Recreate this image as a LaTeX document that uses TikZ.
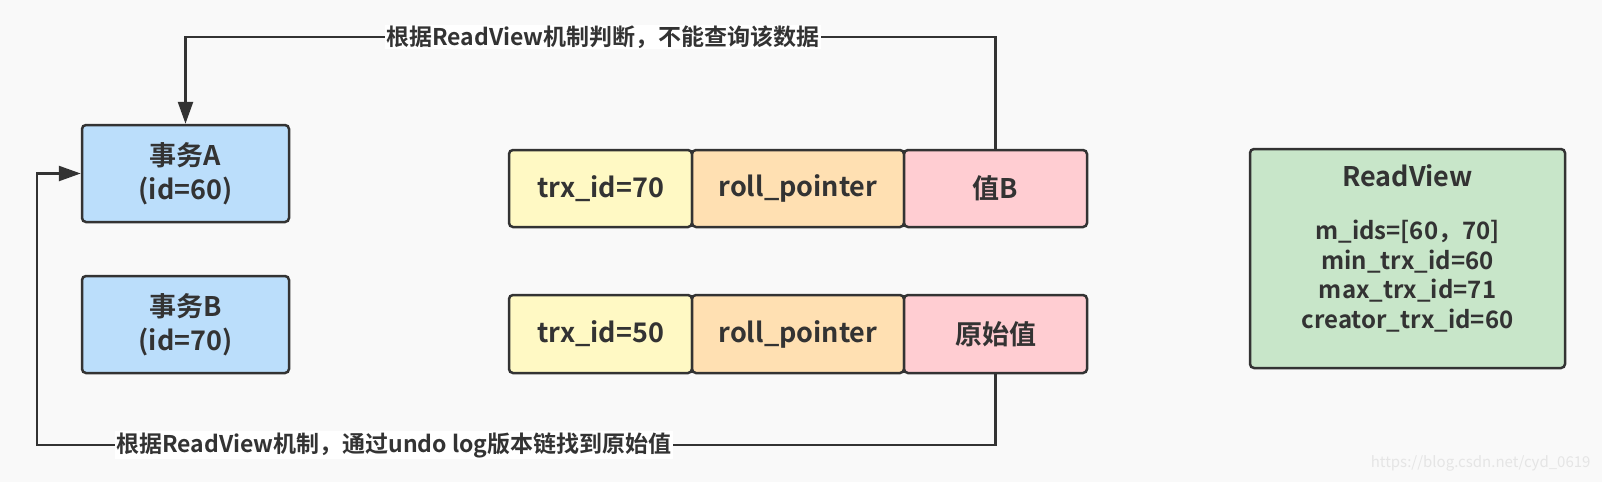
\documentclass[tikz,border=0pt]{standalone}
\usepackage{fontspec}
\setmainfont{Noto Sans CJK SC}[BoldFont=Noto Sans CJK SC Bold]
\usetikzlibrary{arrows.meta}

\definecolor{bgcol}{HTML}{F9F9F9}
\definecolor{ink}{HTML}{333333}
\definecolor{txblue}{HTML}{BBDEFB}
\definecolor{cellyel}{HTML}{FFF9C4}
\definecolor{cellorg}{HTML}{FFE0B2}
\definecolor{cellpink}{HTML}{FFCDD2}
\definecolor{rvgreen}{HTML}{C8E6C9}

\tikzset{
  cell/.style={draw=ink, line width=2.5pt, rounded corners=4pt, text=ink,
    font=\bfseries\fontsize{27}{34}\selectfont, align=center,
    minimum height=77pt, inner sep=0pt},
  link/.style={draw=ink, line width=2.5pt, -{Triangle[length=22pt,width=15pt]}},
  lbl/.style={fill=white, text=ink, inner sep=1pt,
    font=\bfseries\fontsize{23}{26}\selectfont},
}

\begin{document}
\begin{tikzpicture}[x=1pt, y=-1pt]

	\fill[bgcol] (0,0) rectangle (1602,482);
	\useasboundingbox (0,0) rectangle (1602,482);

	% transactions
	\node[cell, fill=txblue, minimum width=207pt, minimum height=97pt] (txA) at (185.5,173.5) {事务A\\(id=60)};
	\node[cell, fill=txblue, minimum width=207pt, minimum height=97pt] (txB) at (185.5,324.5) {事务B\\(id=70)};

	% row versions
	\node[cell, fill=cellyel, minimum width=183pt] (trxN) at (600.5,188.5) {trx\_id=70};
	\node[cell, fill=cellorg, minimum width=212pt] (rollN) at (798,188.5) {roll\_pointer};
	\node[cell, fill=cellpink, minimum width=183pt] (valB) at (995.5,188.5) {值B};

	\node[cell, fill=cellyel, minimum width=183pt, minimum height=78pt] (trxO) at (600.5,334) {trx\_id=50};
	\node[cell, fill=cellorg, minimum width=212pt, minimum height=78pt] (rollO) at (798,334) {roll\_pointer};
	\node[cell, fill=cellpink, minimum width=183pt, minimum height=78pt] (orig) at (995.5,334) {原始值};

	% readview
	\node[cell, fill=rvgreen, minimum width=315pt, minimum height=219pt] (rv) at (1407.5,258.5) {};
	\node[text=ink, font=\bfseries\fontsize{27}{30}\selectfont] (rvT) at (1407.5,176) {ReadView};
	\node[text=ink, font=\bfseries\fontsize{24}{29.5}\selectfont, align=center] (rvB) at (1407.5,276) {m\_ids=[60，70]\\min\_trx\_id=60\\max\_trx\_id=71\\creator\_trx\_id=60};

	% links
	\draw[link] (valB.north) -- (valB.north |- 0,37) -| (txA.north);
	\node[lbl] (l1) at (603,37) {根据ReadView机制判断，不能查询该数据};
	\draw[link] (orig.south) |- (37,445) |- (txA.west);
	\node[lbl] (l2) at (394,445) {根据ReadView机制，通过undo log版本链找到原始值};

	\node[text=black!10, font=\fontsize{15}{15}\selectfont, anchor=east] (wm) at (1594,463) {https://blog.csdn.net/cyd\_0619};
\end{tikzpicture}
\end{document}
